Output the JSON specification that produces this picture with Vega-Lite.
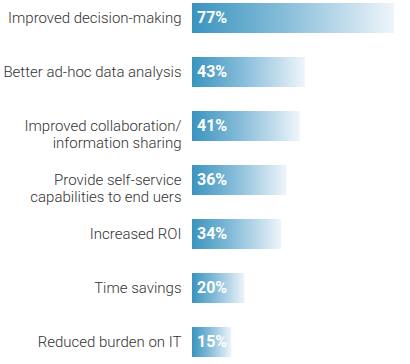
{
  "$schema": "https://vega.github.io/schema/vega-lite/v6.json",
  "width": 210,
  "height": 354,
  "autosize": {"type": "none"},
  "padding": {"left": 192, "top": 3, "right": 8, "bottom": 7},
  "background": "white",
  "data": {
    "values": [
      {"label": "Improved decision-making", "value": 0.77},
      {"label": "Better ad-hoc data analysis", "value": 0.43},
      {"label": "Improved collaboration/|information sharing", "value": 0.41},
      {"label": "Provide self-service|capabilities to end uers", "value": 0.36},
      {"label": "Increased ROI", "value": 0.34},
      {"label": "Time savings", "value": 0.20},
      {"label": "Reduced burden on IT", "value": 0.15}
    ]
  },
  "config": {"view": {"stroke": null}},
  "encoding": {
    "y": {
      "field": "label",
      "type": "nominal",
      "sort": null,
      "scale": {"paddingInner": 0.444, "paddingOuter": 0},
      "axis": {
        "title": null,
        "domain": false,
        "ticks": false,
        "labelPadding": 11,
        "labelFont": "Roboto",
        "labelFontSize": 15,
        "labelFontWeight": 300,
        "labelColor": "#333333",
        "labelLimit": 0,
        "labelLineHeight": 17,
        "labelExpr": "split(datum.label, '|')"
      }
    }
  },
  "layer": [
    {
      "mark": {
        "type": "bar",
        "color": {
          "gradient": "linear",
          "x1": 0, "x2": 1, "y1": 0, "y2": 0,
          "stops": [
            {"offset": 0, "color": "#3a94bf"},
            {"offset": 0.45, "color": "#86bcd9"},
            {"offset": 1, "color": "#eef5fa"}
          ]
        }
      },
      "encoding": {
        "x": {
          "field": "value",
          "type": "quantitative",
          "scale": {"domain": [0, 0.77]},
          "axis": null
        }
      }
    },
    {
      "mark": {
        "type": "text",
        "align": "left",
        "baseline": "middle",
        "dx": 5,
        "font": "Roboto",
        "fontSize": 16,
        "fontWeight": "bold",
        "color": "white"
      },
      "encoding": {
        "x": {"datum": 0, "type": "quantitative"},
        "text": {"field": "value", "type": "quantitative", "format": ".0%"},
        "y": {"field": "label", "type": "nominal", "sort": null}
      }
    }
  ]
}
